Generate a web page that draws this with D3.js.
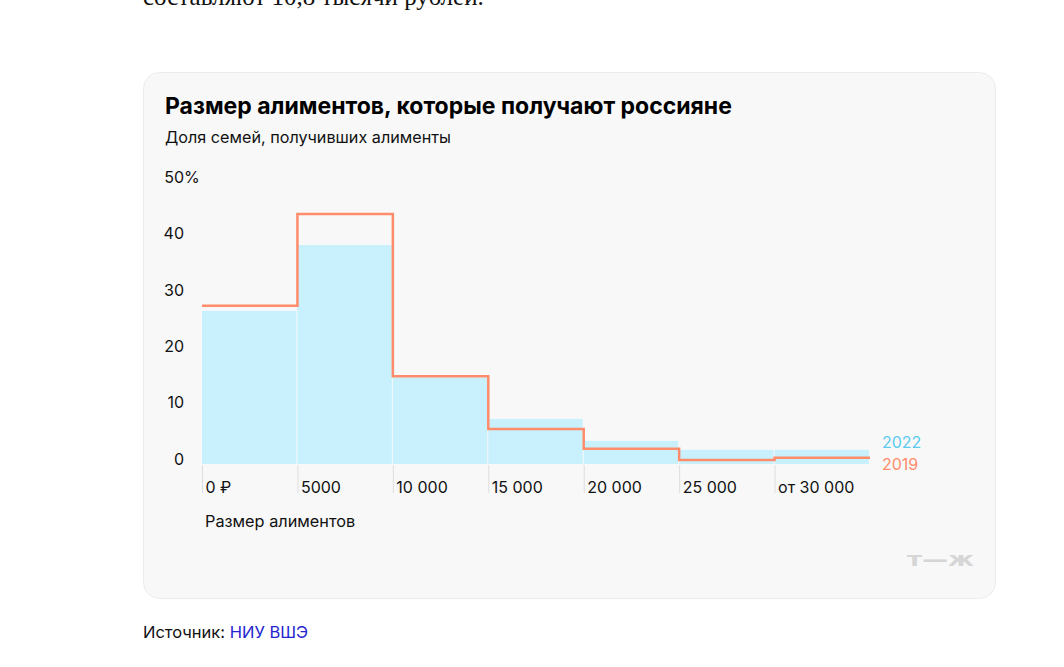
<!DOCTYPE html>
<html>
<head>
<meta charset="utf-8">
<script src="https://cdn.jsdelivr.net/npm/d3@7"></script>
<style>
  html, body { margin: 0; padding: 0; background: #ffffff; overflow: hidden; }
  svg { display: block; }
  .sans { font-family: Inter, Roboto, "Noto Sans", sans-serif; }
</style>
</head>
<body>
<svg id="chart" width="1064" height="667"></svg>
<script>
// ---- data ----
const categories = ["0 ₽", "5000", "10 000", "15 000", "20 000", "25 000", "от 30 000"];
const values2022 = [27.2, 38.9, 15.4, 8.0, 4.1, 2.5, 2.5];
const values2019 = [28.1, 44.4, 15.6, 6.2, 2.7, 0.7, 1.1];
const yTicks = [0, 10, 20, 30, 40, 50];
const seriesNames = ["2022", "2019"];

const svg = d3.select("#chart");

// top body text (cut off at the top, as in the page)
svg.append("text")
  .attr("x", 143).attr("y", 5)
  .attr("font-family", "'Liberation Serif', 'DejaVu Serif', serif")
  .attr("font-size", 25)
  .attr("fill", "#111")
  .text("составляют 10,8 тысячи рублей.");

// card
svg.append("rect")
  .attr("x", 143.5).attr("y", 72.5)
  .attr("width", 852).attr("height", 526)
  .attr("rx", 16).attr("ry", 16)
  .attr("fill", "#f8f8f8")
  .attr("stroke", "#ececec");

// title
svg.append("text").attr("class", "sans")
  .attr("x", 165).attr("y", 114)
  .attr("font-size", 23).attr("font-weight", 700).attr("fill", "#000")
  .text("Размер алиментов, которые получают россияне");

svg.append("text").attr("class", "sans")
  .attr("x", 165).attr("y", 143)
  .attr("font-size", 16.2).attr("fill", "#111")
  .text("Доля семей, получивших алименты");

// scales
const x = d3.scaleBand().domain(categories).range([202, 870]).paddingInner(0).paddingOuter(0);
const y = d3.scaleLinear().domain([0, 50]).range([464, 182.5]);
const bw = x.bandwidth();

// y axis labels
const yAxis = d3.axisLeft(y).tickValues(yTicks).tickSize(0).tickPadding(0)
  .tickFormat(d => d);
const gy = svg.append("g").attr("transform", "translate(184,0)").call(yAxis);
gy.select(".domain").remove();
gy.selectAll("text")
  .attr("font-size", 16).attr("fill", "#111")
  .attr("dy", 0).attr("font-family", "Inter, Roboto, sans-serif");
gy.append("text")
  .attr("x", 0).attr("y", y(50))
  .attr("text-anchor", "start")
  .attr("font-family", "Inter, Roboto, sans-serif")
  .attr("font-size", 16).attr("fill", "#111")
  .text("%");

// bars 2022
svg.append("g").selectAll("rect")
  .data(values2022)
  .join("rect")
  .attr("x", (d, i) => x(categories[i]))
  .attr("y", d => y(d))
  .attr("width", bw - 1)
  .attr("height", d => y(0) - y(d))
  .attr("fill", "#c8f1fd");

// x ticks
const gx = svg.append("g");
gx.selectAll("line")
  .data(categories)
  .join("line")
  .attr("x1", d => x(d) + 0.5).attr("x2", d => x(d) + 0.5)
  .attr("y1", y(0) + 1).attr("y2", 493)
  .attr("stroke", "#dedede").attr("stroke-width", 1);
gx.selectAll("text")
  .data(categories)
  .join("text")
  .attr("class", "sans")
  .attr("x", d => x(d) + 3.5).attr("y", 493)
  .attr("font-size", 16).attr("fill", "#111")
  .text(d => d);

svg.append("text").attr("class", "sans")
  .attr("x", 205).attr("y", 527)
  .attr("font-size", 16.3).attr("fill", "#111")
  .text("Размер алиментов");

// step line 2019
const pts = values2019.map((v, i) => [x(categories[i]), y(v)]);
pts.push([x(categories[categories.length - 1]) + bw, y(values2019[values2019.length - 1])]);
const line = d3.line().x(d => d[0]).y(d => d[1]).curve(d3.curveStepAfter);
svg.append("path")
  .attr("d", line(pts))
  .attr("fill", "none")
  .attr("stroke", "#ff8c6b")
  .attr("stroke-width", 2.5)
  .attr("stroke-linejoin", "miter");

// legend
const xEnd = x(categories[categories.length - 1]) + bw;
svg.append("text").attr("class", "sans")
  .attr("x", xEnd + 12).attr("y", y(values2022[values2022.length - 1]) - 2)
  .attr("font-size", 16).attr("fill", "#5ccbee")
  .text(seriesNames[0]);
svg.append("text").attr("class", "sans")
  .attr("x", xEnd + 12).attr("y", y(values2019[values2019.length - 1]) + 12)
  .attr("font-size", 16).attr("fill", "#ff8c6b")
  .text(seriesNames[1]);

// logo
svg.append("text")
  .attr("x", 907).attr("y", 566)
  .attr("font-family", "'DejaVu Sans', sans-serif")
  .attr("font-weight", 900)
  .attr("font-size", 20)
  .attr("fill", "#d6d6d6")
  .attr("textLength", 67).attr("lengthAdjust", "spacingAndGlyphs")
  .text("т—ж");

// source
const src = svg.append("text").attr("class", "sans")
  .attr("x", 143).attr("y", 638)
  .attr("font-size", 16.5).attr("fill", "#111");
src.append("tspan").text("Источник: ");
src.append("tspan").attr("fill", "#2525d0").text("НИУ ВШЭ");
</script>
</body>
</html>
